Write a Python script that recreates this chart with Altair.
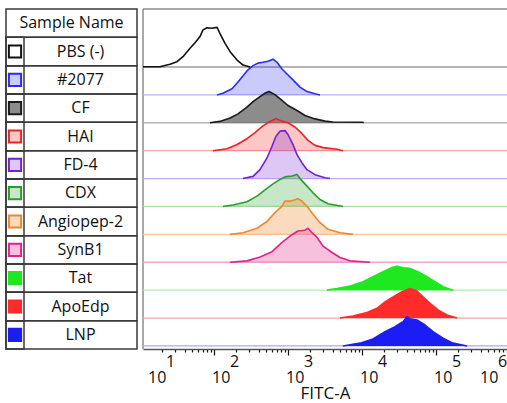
import altair as alt
import pandas as pd

# Sample order, top lane to bottom lane
samples = ["PBS (-)", "#2077", "CF", "HAI", "FD-4", "CDX",
           "Angiopep-2", "SynB1", "Tat", "ApoEdp", "LNP"]

# Histogram traces: FITC-A intensity and normalised event count (% of lane spacing)
pbs_fitc = [11, 18.6, 25.4, 31.6, 38.1, 47.4, 55.4, 64.7, 71, 80.4, 94, 110, 120, 141, 165, 205, 247, 307]
pbs_count = [1, 1, 10, 19, 37, 67, 87, 109, 133, 141, 139, 142, 121, 85, 55, 25, 7, 0]

s2077_fitc = [110, 132, 175, 211, 247, 288, 337, 393, 459, 537, 627, 710, 830, 969, 1168, 1453, 1806, 2317, 2706]
s2077_count = [0, 6, 22, 46, 69, 90, 105, 114, 117, 121, 128, 117, 93, 75, 54, 28, 12, 4, 0]

cf_fitc = [88, 120, 165, 211, 279, 337, 418, 489, 554, 667, 830, 1000, 1323, 1697, 2317, 3162, 4056, 10300, 10500]
cf_count = [0, 5, 17, 32, 56, 76, 94, 106, 112, 101, 80, 62, 44, 26, 14, 6, 3, 2, 0]

hai_fitc = [97, 150, 205, 279, 358, 459, 571, 688, 830, 1000, 1243, 1546, 1863, 2317, 2972, 4595, 5536]
hai_count = [0, 7, 22, 43, 65, 89, 105, 115, 106, 100, 85, 61, 37, 19, 11, 5, 0]

fd4_fitc = [247, 337, 418, 520, 608, 688, 780, 911, 1000, 1168, 1323, 1546, 1806, 2317, 3162, 3695]
fd4_count = [0, 8, 32, 74, 116, 152, 170, 172, 158, 122, 86, 56, 32, 14, 3, 0]

cdx_fitc = [132, 181, 279, 381, 520, 627, 780, 911, 1133, 1323, 1453, 1806, 2177, 2706, 3471, 5536]
cdx_count = [0, 5, 17, 37, 65, 81, 97, 106, 109, 115, 100, 73, 49, 25, 10, 0]

ang_fitc = [165, 247, 381, 520, 667, 830, 911, 1064, 1365, 1546, 1806, 2177, 2706, 3471, 5043, 7555]
ang_count = [0, 6, 22, 46, 78, 101, 119, 119, 128, 119, 101, 72, 42, 18, 6, 0]

synb1_fitc = [165, 279, 418, 608, 830, 1064, 1365, 1697, 1863, 2110, 2466, 2972, 3932, 5043, 6882, 12830]
synb1_count = [0, 5, 19, 38, 71, 94, 112, 115, 122, 106, 89, 58, 35, 17, 5, 0]

tat_fitc = [3365, 4595, 6882, 10316, 14080, 19220, 25430, 29720, 35820, 44530, 57120, 75550, 96940, 124300, 169700]
tat_count = [0, 6, 15, 30, 48, 66, 81, 86, 80, 78, 66, 48, 30, 12, 0]

apo_fitc = [5043, 7555, 11680, 15950, 20460, 26240, 34720, 44530, 55360, 66740, 82980, 106400, 140800, 192200]
apo_count = [0, 7, 20, 35, 58, 76, 94, 106, 97, 76, 53, 29, 11, 0]

lnp_fitc = [5536, 9397, 14080, 20460, 27920, 35820, 40560, 44530, 55360, 71020, 91100, 124300, 169700, 262400]
lnp_count = [0, 10, 25, 51, 69, 87, 105, 97, 93, 75, 51, 28, 10, 0]

traces = [(pbs_fitc, pbs_count), (s2077_fitc, s2077_count), (cf_fitc, cf_count),
          (hai_fitc, hai_count), (fd4_fitc, fd4_count), (cdx_fitc, cdx_count),
          (ang_fitc, ang_count), (synb1_fitc, synb1_count), (tat_fitc, tat_count),
          (apo_fitc, apo_count), (lnp_fitc, lnp_count)]

# Styling per sample
line_colors = ["#111111", "#2b2bef", "#1a1a1a", "#ee2020", "#7620d4", "#25a025",
               "#f0872a", "#e2228a", "#20e820", "#ff2a2a", "#1c1cf5"]
fill_colors = ["#ffffff", "#2b2bef", "#1a1a1a", "#ee2020", "#7620d4", "#25a025",
               "#f0872a", "#e2228a", "#20e820", "#ff2a2a", "#1c1cf5"]
fill_opacity = [0, 0.25, 0.5, 0.25, 0.25, 0.25, 0.3, 0.28, 1, 1, 1]
base_colors = ["#9a9a9a", "#b4b4f6", "#a6a6a6", "#f3a8a8", "#c9aaf0", "#ace0ac",
               "#f7c79c", "#f2a6cc", "#a6f4a6", "#f6a6a6", "#a8a8fa"]

FONT = "Open Sans"
W, H = 364, 340
PAD_L, PAD_T, PAD_B = 143, 9, 54
LANE = 100

# log x scale: 74 px per decade, plot starting just above 10^1
LO, HI = 1.0405, 1.0405 + W / 74.0
X_SCALE = alt.Scale(type="log", domain=[10 ** LO, 10 ** HI], nice=False)
Y_SCALE = alt.Scale(domain=[-0.11 * LANE, 12.08 * LANE], nice=False, zero=False)

majors = [10 ** k for k in range(1, 7)]
minors = [m * 10 ** k for k in range(1, 6) for m in range(2, 10)]
tick_vals = sorted(v for v in majors + minors if 10 ** LO <= v <= 10 ** HI)

X_AXIS = alt.Axis(
    values=tick_vals, labels=False, grid=False,
    domainColor="#555555", domainWidth=1.5,
    tickColor="#111111", tickWidth=1.2,
    tickSize={"condition": {"test": "indexof([10,100,1000,10000,100000,1000000], datum.value) >= 0",
                            "value": 6}, "value": 3},
    title="FITC-A", titleFont=FONT, titleFontSize=17, titleFontWeight="normal",
    titleColor="#111111", titleBaseline="alphabetic", titleY=49,
)

one = pd.DataFrame({"k": [0]})
layers = []

# plot frame (top and left edges)
layers.append(alt.Chart(one).mark_rule(color="#8c8c8c", strokeWidth=1.5)
              .encode(x=alt.value(0), x2=alt.value(W), y=alt.value(0)))
layers.append(alt.Chart(one).mark_rule(color="#8c8c8c", strokeWidth=1.5)
              .encode(x=alt.value(0), y=alt.value(0), y2=alt.value(H)))

n = len(samples)
for i, (fx, cnt) in enumerate(traces):
    base = (n - 1 - i) * LANE
    df = pd.DataFrame({"fitc": fx, "top": [base + c for c in cnt], "base": base})
    layers.append(
        alt.Chart(pd.DataFrame({"base": [base]}))
        .mark_rule(color=base_colors[i], strokeWidth=1.3)
        .encode(y=alt.Y("base:Q", scale=Y_SCALE, axis=None), x=alt.value(0), x2=alt.value(W))
    )
    if fill_opacity[i] > 0:
        layers.append(
            alt.Chart(df).mark_area(color=fill_colors[i], fillOpacity=fill_opacity[i])
            .encode(x=alt.X("fitc:Q", scale=X_SCALE, axis=X_AXIS),
                    y=alt.Y("top:Q", scale=Y_SCALE, axis=None), y2="base:Q")
        )
    layers.append(
        alt.Chart(df).mark_line(color=line_colors[i], strokeWidth=1.6, strokeJoin="round")
        .encode(x=alt.X("fitc:Q", scale=X_SCALE, axis=X_AXIS),
                y=alt.Y("top:Q", scale=Y_SCALE, axis=None))
    )

# decade labels written as 10 with a raised exponent; end labels pulled inside the frame
exps = [1, 2, 3, 4, 5, 6]
lab_df = pd.DataFrame({"v": [10 ** k for k in exps], "b": ["10"] * len(exps),
                       "e": [str(k) for k in exps]})
for cond, shift in [("datum.v == 10", 8), ("datum.v > 10 && datum.v < 1000000", -2),
                    ("datum.v == 1000000", -30)]:
    for field, dx, yy in [("b", shift, H + 34), ("e", shift + 18, H + 18)]:
        layers.append(
            alt.Chart(lab_df).transform_filter(cond)
            .mark_text(font=FONT, fontSize=16, color="#111111", align="left",
                       baseline="alphabetic", dx=dx)
            .encode(x=alt.X("v:Q", scale=X_SCALE, axis=X_AXIS), y=alt.value(yy),
                    text=f"{field}:N")
        )

# sample table on the left
rows = ["Sample Name"] + samples
row_df = pd.DataFrame({
    "row": rows,
    "header": [1] + [0] * n,
    "line": ["#000000"] + line_colors,
    "fill": ["#ffffff"] + fill_colors,
    "fop": [0] + fill_opacity,
})
ROW_Y = alt.Y("row:N", scale=alt.Scale(domain=rows, paddingInner=0, paddingOuter=0), axis=None)
T_L, T_R, SW_R = 6 - PAD_L, 137 - PAD_L, 24 - PAD_L

layers.append(alt.Chart(row_df).mark_rect(fillOpacity=0, stroke="#3a3a3a", strokeWidth=1.5)
              .encode(y=ROW_Y, x=alt.value(T_L), x2=alt.value(T_R)))
layers.append(alt.Chart(row_df).transform_filter("datum.header == 0")
              .mark_rect(fillOpacity=0, stroke="#3a3a3a", strokeWidth=1.5)
              .encode(y=ROW_Y, x=alt.value(T_L), x2=alt.value(SW_R)))
layers.append(alt.Chart(row_df).transform_filter("datum.header == 0")
              .mark_square(size=150, strokeWidth=2, opacity=1)
              .encode(y=ROW_Y, x=alt.value((T_L + SW_R) / 2),
                      fill=alt.Fill("fill:N", scale=None),
                      fillOpacity=alt.FillOpacity("fop:Q", scale=None),
                      stroke=alt.Stroke("line:N", scale=None)))
layers.append(alt.Chart(row_df).transform_filter("datum.header == 1")
              .mark_text(font=FONT, fontSize=16, color="#111111", baseline="middle", align="center")
              .encode(y=ROW_Y, x=alt.value((T_L + T_R) / 2), text="row:N"))
layers.append(alt.Chart(row_df).transform_filter("datum.header == 0")
              .mark_text(font=FONT, fontSize=16, color="#111111", baseline="middle", align="center")
              .encode(y=ROW_Y, x=alt.value((SW_R + T_R) / 2), text="row:N"))

chart = (
    alt.layer(*layers)
    .resolve_scale(y="independent")
    .properties(width=W, height=H,
                autosize=alt.AutoSizeParams(type="none"),
                padding={"left": PAD_L, "top": PAD_T, "right": 0, "bottom": PAD_B})
    .configure_view(strokeWidth=0)
)

chart.save("out.html", embed_options={"renderer": "svg", "actions": False})
